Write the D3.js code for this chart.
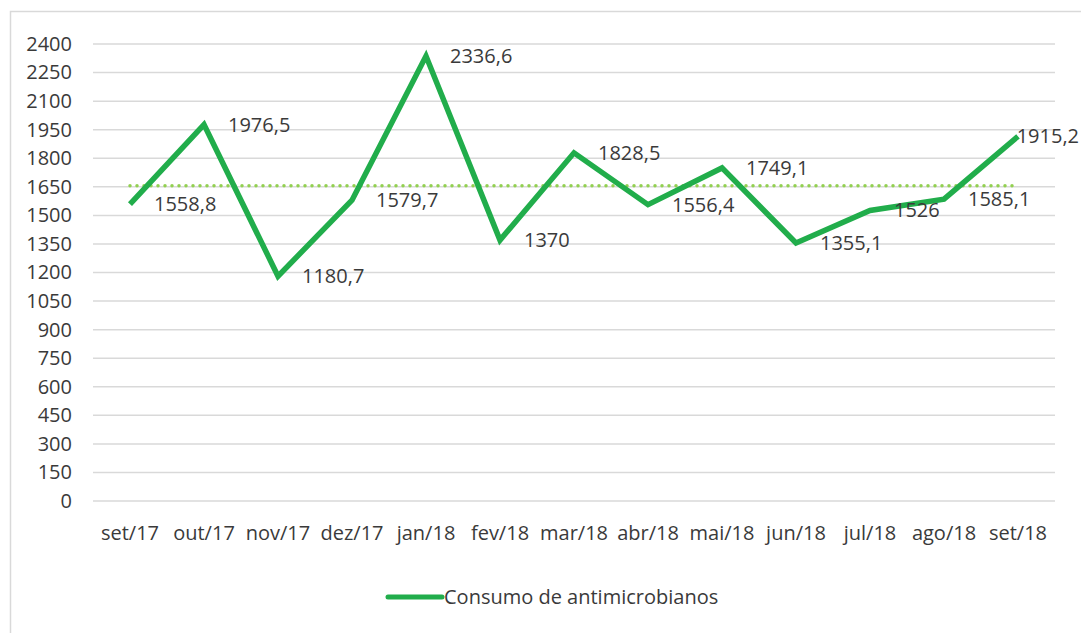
<!DOCTYPE html>
<html>
<head>
<meta charset="utf-8">
<script src="https://cdn.jsdelivr.net/npm/d3@7"></script>
<style>
  body { margin: 0; background: #fff; }
  svg { display: block; font-family: "Open Sans", sans-serif; }
</style>
</head>
<body>
<svg id="chart" width="1081" height="633"></svg>
<script>
// Consumo mensal de antimicrobianos, set/17 a set/18, com linha da média (pontilhada)
const months = ["set/17", "out/17", "nov/17", "dez/17", "jan/18", "fev/18", "mar/18",
  "abr/18", "mai/18", "jun/18", "jul/18", "ago/18", "set/18"];
const consumo = [1558.8, 1976.5, 1180.7, 1579.7, 2336.6, 1370, 1828.5,
  1556.4, 1749.1, 1355.1, 1526, 1585.1, 1915.2];
const labels = ["1558,8", "1976,5", "1180,7", "1579,7", "2336,6", "1370", "1828,5",
  "1556,4", "1749,1", "1355,1", "1526", "1585,1", "1915,2"];
const media = 1655.2;
const yTicks = [0, 150, 300, 450, 600, 750, 900, 1050, 1200, 1350, 1500, 1650,
  1800, 1950, 2100, 2250, 2400];
const seriesName = "Consumo de antimicrobianos";

function drawChart() {
  const svg = d3.select("#chart");
  const width = +svg.attr("width");

  const textColor = "#3a3a3a";
  const gridColor = "#d9d9d9";
  const lineColor = "#21ad4b";
  const meanColor = "#92d050";
  const fontSize = 20;

  // frame (only top and left edges visible in the crop)
  svg.append("path")
    .attr("d", `M10.5,633 V11.5 H${width}`)
    .attr("fill", "none")
    .attr("stroke", gridColor)
    .attr("stroke-width", 1.5);

  const x = d3.scaleBand().domain(months).range([93, 1055]);
  const cx = d => x(d) + x.bandwidth() / 2;
  const y = d3.scaleLinear().domain([0, 2400]).range([501, 44]);

  // horizontal gridlines
  svg.append("g")
    .selectAll("line")
    .data(yTicks)
    .join("line")
    .attr("x1", 93)
    .attr("x2", 1055)
    .attr("y1", d => y(d))
    .attr("y2", d => y(d))
    .attr("stroke", gridColor)
    .attr("stroke-width", 1.5);

  // y axis labels
  svg.append("g")
    .call(d3.axisLeft(y).tickValues(yTicks).tickSize(0).tickPadding(0).tickFormat(d3.format("d")))
    .attr("transform", "translate(72,0)")
    .call(a => {
      a.select(".domain").remove();
      a.selectAll("text")
        .attr("fill", textColor)
        .attr("font-size", fontSize)
        .attr("font-family", "Open Sans, sans-serif");
    });

  // x axis labels
  svg.append("g")
    .call(d3.axisBottom(x).tickSize(0).tickPadding(0))
    .attr("transform", "translate(0,526)")
    .call(a => {
      a.select(".domain").remove();
      a.selectAll("text")
        .attr("fill", textColor)
        .attr("font-size", fontSize)
        .attr("font-family", "Open Sans, sans-serif");
    });

  // mean line, dotted
  svg.append("line")
    .attr("x1", cx(months[0]))
    .attr("x2", cx(months[months.length - 1]))
    .attr("y1", y(media))
    .attr("y2", y(media))
    .attr("stroke", meanColor)
    .attr("stroke-width", 3.5)
    .attr("stroke-linecap", "round")
    .attr("stroke-dasharray", "0 7");

  const pts = months.map((m, i) => ({ m, v: consumo[i], label: labels[i] }));

  svg.append("path")
    .datum(pts)
    .attr("d", d3.line().x(d => cx(d.m)).y(d => y(d.v)))
    .attr("fill", "none")
    .attr("stroke", lineColor)
    .attr("stroke-width", 5.5)
    .attr("stroke-linejoin", "miter");

  // data labels to the right of each point; pulled back inside the frame if needed
  svg.append("g")
    .selectAll("text")
    .data(pts)
    .join("text")
    .attr("x", d => cx(d.m) + 24)
    .attr("y", d => y(d.v))
    .attr("dy", "0.35em")
    .attr("fill", textColor)
    .attr("font-size", fontSize)
    .text(d => d.label)
    .each(function() {
      const w = this.getComputedTextLength();
      const x0 = +d3.select(this).attr("x");
      if (x0 + w > width - 2) d3.select(this).attr("x", width - 2 - w);
    });

  // legend
  const legend = svg.append("g").attr("transform", "translate(388,597)");
  legend.append("line")
    .attr("x1", 0).attr("x2", 54)
    .attr("stroke", lineColor)
    .attr("stroke-width", 5)
    .attr("stroke-linecap", "round");
  legend.append("text")
    .attr("x", 56)
    .attr("dy", "0.35em")
    .attr("fill", textColor)
    .attr("font-size", fontSize)
    .text(seriesName);
}

drawChart();
</script>
</body>
</html>
